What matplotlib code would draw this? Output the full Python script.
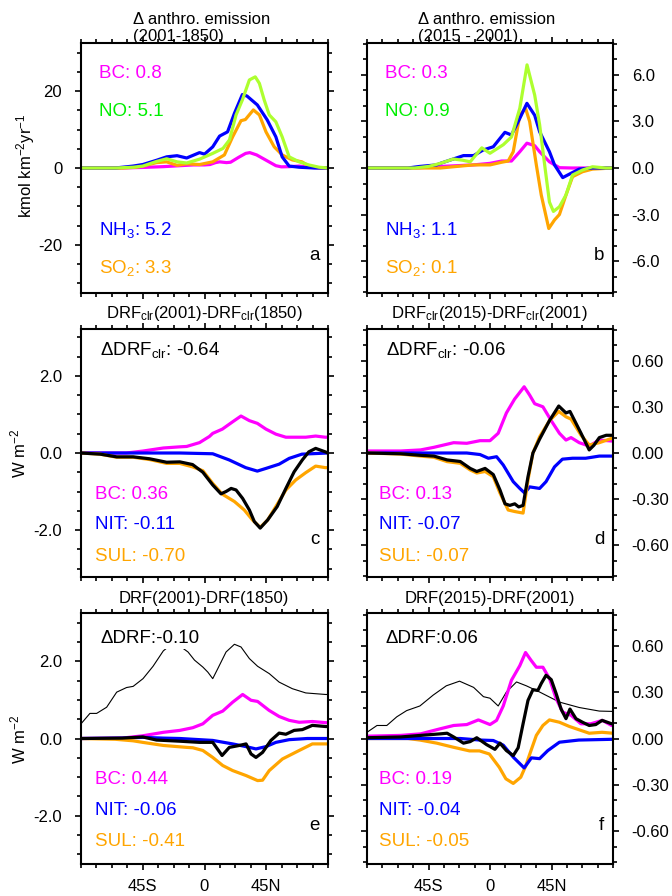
import matplotlib
matplotlib.use("Agg")
import matplotlib.pyplot as plt
from matplotlib.ticker import MultipleLocator

plt.rcParams['font.family'] = ['Liberation Sans', 'DejaVu Sans']
plt.rcParams['mathtext.fontset'] = 'custom'
plt.rcParams['mathtext.rm'] = 'Liberation Sans'
plt.rcParams['mathtext.it'] = 'Liberation Sans:italic'
plt.rcParams['mathtext.bf'] = 'Liberation Sans:bold'
plt.rcParams['axes.unicode_minus'] = False
plt.rcParams['lines.solid_joinstyle'] = 'round'
plt.rcParams['lines.solid_capstyle'] = 'round'

# ---------------- data ----------------
# Panel a: emission change 2001-1850 (kmol km-2 yr-1)
a_bc_lat = [-90, -60, -45, -30, -18, -8, 0, 4, 8, 11, 16, 19, 25, 30, 33, 38, 45, 52, 56, 62, 69, 76, 82, 90]
a_bc_val = [0, 0, 0.15, 0.35, 0.6, 0.8, 0.8, 0.9, 1.4, 1.6, 1.4, 1.5, 2.8, 3.8, 4.0, 3.4, 2.0, 0.6, 0.3, 0.35, 0.5, 0.2, 0.05, 0]
a_nh3_lat = [-90, -65, -52, -45, -35, -27.6, -20, -13, -3.6, 0, 6, 11, 16.8, 21.8, 27.6, 31, 38.5, 45.7, 52, 56.6, 61.7, 69, 80, 90]
a_nh3_val = [0, 0, 0.5, 0.9, 2.0, 2.9, 3.2, 2.6, 4.0, 3.6, 5.5, 8.3, 9.4, 14.2, 19.1, 18.7, 16.4, 12.5, 8.1, 2.9, 0.5, 0.2, 0, 0]
a_no_lat = [-90, -65, -52, -45, -35, -27.6, -20, -13, -3.6, 6, 13.5, 18.2, 23, 27.6, 32.7, 37, 40, 43.5, 47.2, 52, 56.6, 61.7, 69, 76, 83.5, 90]
a_no_val = [0, 0, 0.2, 0.5, 1.7, 2.4, 1.6, 1.3, 2.3, 3.8, 5.1, 7.3, 13.8, 17.7, 22.9, 23.7, 22, 17.7, 13.8, 12, 8.1, 2.9, 1.6, 0.8, 0.2, 0]
a_so2_lat = [-90, -60, -50, -45, -35, -27.6, -20, -13, -3.6, 6, 14.5, 20.5, 26.6, 29.8, 35.6, 40, 44.8, 50.8, 56.6, 64, 71, 76, 82, 90]
a_so2_val = [0, 0, 0.2, 0.5, 1.4, 1.6, 0.7, 1.1, 0.9, 1.6, 3.4, 8.1, 12.3, 12.6, 15.1, 13.8, 9.4, 5.5, 3.4, 2.1, 1.6, 0.5, 0.1, 0]

# Panel b: emission change 2015-2001
b_bc_lat = [-90, -55, -36, -12, 0, 8.5, 15.7, 21.8, 27, 32.7, 36.3, 43.5, 50.8, 60, 90]
b_bc_val = [0, 0, 0.1, 0.2, 0.3, 0.45, 0.45, 1.05, 1.6, 1.44, 1.05, 0.4, 0.02, 0, 0]
b_no_lat = [-90, -55, -45, -36.3, -26.8, -20, -14.5, -6, 0, 9.7, 15.7, 21.8, 27.1, 32.7, 36.3, 40, 43.5, 46.4, 50.8, 55.6, 60.4, 67.7, 75, 84.7, 90]
b_no_val = [0, 0, 0.1, 0.3, 0.58, 0.5, 0.4, 1.3, 0.95, 1.5, 2.0, 3.85, 6.65, 4.7, 2.8, 0.2, -2.2, -2.8, -2.5, -1.74, -0.45, -0.13, 0.08, 0, 0]
b_nh3_lat = [-90, -60, -51.5, -39, -36.3, -19.4, -12, -5, 2.4, 10.9, 15.7, 21.8, 27, 32.7, 36.3, 43.5, 47.2, 53.2, 59.3, 65.3, 75, 90]
b_nh3_val = [0, 0, 0.1, 0.2, 0.3, 0.8, 0.8, 1.16, 1.37, 2.3, 2.13, 3.2, 4.17, 3.4, 2.34, 1.05, 0.2, -0.62, -0.34, -0.07, 0, 0]
b_so2_lat = [-90, -36.3, -24.4, -12, 0, 8.5, 13.3, 17, 21.8, 26, 29, 33.9, 37.5, 43, 47.2, 50.8, 55.6, 60.4, 67.7, 75, 90]
b_so2_val = [0, 0, 0.1, 0.2, 0.2, 0.37, 0.45, 1.05, 3.4, 3.85, 3.0, 0.2, -1.74, -3.9, -3.35, -3.0, -1.74, -0.56, -0.24, -0.07, 0]

# Panel c: clear-sky DRF 2001-1850 (W m-2)
c_bc_lat = [-90, -57, -45, -30, -18, -13, -3.6, 3.6, 6, 13, 20.5, 26.6, 32.7, 38.5, 44.8, 52, 59.3, 66.5, 73.8, 81, 88, 90]
c_bc_val = [0, 0, 0.05, 0.13, 0.16, 0.17, 0.27, 0.43, 0.51, 0.62, 0.81, 0.96, 0.84, 0.77, 0.62, 0.49, 0.41, 0.41, 0.41, 0.44, 0.41, 0.41]
c_nit_lat = [-90, -18, 6, 18, 30, 38.5, 44.8, 54.4, 61.7, 71, 90]
c_nit_val = [0, 0, -0.02, -0.18, -0.38, -0.47, -0.4, -0.29, -0.14, -0.03, 0]
c_sul_lat = [-90, -76, -64, -52, -40, -27.6, -18, -8.7, -1.2, 6, 13, 21.8, 29, 35, 40.6, 46, 52, 59.3, 66.5, 73.8, 81, 88, 90]
c_sul_val = [0, -0.03, -0.11, -0.11, -0.17, -0.27, -0.27, -0.36, -0.46, -0.79, -1.07, -1.26, -1.48, -1.74, -1.93, -1.74, -1.39, -0.96, -0.7, -0.51, -0.34, -0.38, -0.38]
c_tot_lat = [-90, -76, -64, -52, -40, -27.6, -18, -8.7, -1.2, 6, 12, 15.7, 19.4, 23, 27.8, 32.7, 36.3, 40.6, 46, 53, 59.3, 65.3, 71.3, 76, 81, 88, 90]
c_tot_val = [0, -0.03, -0.1, -0.1, -0.15, -0.24, -0.23, -0.3, -0.5, -0.83, -1.06, -1.0, -0.92, -0.96, -1.18, -1.48, -1.78, -1.95, -1.74, -1.39, -0.92, -0.49, -0.18, 0.03, 0.12, 0.03, 0.0]

# Panel d: clear-sky DRF 2015-2001
d_bc_lat = [-90, -65.3, -50.8, -41, -26.6, -17, -7.3, 0, 6, 12, 18, 25, 29, 32.7, 38.7, 44.8, 50.8, 55.6, 59.3, 65.3, 72.6, 79.8, 89, 90]
d_bc_val = [0.013, 0.013, 0.02, 0.037, 0.067, 0.063, 0.08, 0.08, 0.128, 0.26, 0.35, 0.43, 0.376, 0.32, 0.3, 0.21, 0.128, 0.084, 0.1, 0.067, 0.045, 0.084, 0.078, 0.078]
d_nit_lat = [-90, -17, -7.3, -1.2, 4.8, 9.7, 17, 21.8, 25.4, 29, 36.3, 41, 47.2, 53, 60.4, 70, 80, 90]
d_nit_val = [0, 0, -0.01, -0.034, -0.024, -0.078, -0.186, -0.23, -0.26, -0.22, -0.23, -0.186, -0.09, -0.04, -0.034, -0.034, -0.02, -0.02]
d_sul_lat = [-90, -65.3, -50.8, -41, -31.4, -21.8, -14.5, -9.7, -3.6, 2.4, 7.3, 13.3, 18.1, 24.2, 27.8, 31.4, 36.3, 43.5, 50.3, 55.6, 59.3, 66.5, 72.6, 80, 89, 90]
d_sul_val = [0, -0.007, -0.02, -0.028, -0.056, -0.067, -0.11, -0.13, -0.12, -0.154, -0.26, -0.37, -0.38, -0.39, -0.175, 0, 0.105, 0.21, 0.27, 0.235, 0.22, 0.117, 0.052, 0.067, 0.095, 0.095]
d_tot_lat = [-90, -65.3, -50.8, -41, -31.4, -21.8, -14.5, -9.7, -3.6, 2.4, 7.3, 11, 14.5, 18.1, 21, 24.2, 27.8, 31.4, 36.3, 43.5, 50.3, 55.6, 58.5, 66.5, 72.6, 76, 80, 85, 90]
d_tot_val = [0, -0.005, -0.015, -0.02, -0.045, -0.055, -0.1, -0.12, -0.1, -0.14, -0.24, -0.33, -0.34, -0.33, -0.35, -0.34, -0.154, 0, 0.09, 0.21, 0.305, 0.26, 0.27, 0.13, 0.02, 0.05, 0.1, 0.115, 0.115]

# Panel e: all-sky DRF 2001-1850
e_ref_lat = [-90, -83.5, -78.6, -71.3, -64, -56.8, -52, -44.8, -37.5, -30, -22, -12, -7.3, -1.2, 2.4, 6, 9.7, 15.7, 21.8, 26.6, 32.7, 38.7, 47.2, 54.4, 64, 73.8, 81, 88.3, 90]
e_ref_val = [0.38, 0.65, 0.65, 0.81, 1.2, 1.32, 1.35, 1.55, 1.87, 2.27, 2.5, 2.24, 2.03, 1.85, 1.72, 1.55, 1.81, 2.24, 2.44, 2.37, 2.07, 1.87, 1.68, 1.46, 1.29, 1.18, 1.16, 1.14, 1.14]
e_bc_lat = [-90, -60, -45, -30, -18, -8.5, -1.2, 6, 13.3, 20.5, 27.8, 33.9, 38.7, 47, 54.4, 61.7, 69, 78.6, 88.3, 90]
e_bc_val = [0, 0.01, 0.07, 0.16, 0.21, 0.28, 0.38, 0.6, 0.71, 0.94, 1.14, 0.99, 0.96, 0.73, 0.57, 0.47, 0.42, 0.44, 0.41, 0.41]
e_nit_lat = [-90, -60, -45, -30, -18, 6, 20.5, 30.3, 37.5, 44.8, 52, 61.7, 75, 90]
e_nit_val = [0, 0.01, 0.03, 0.01, 0, -0.05, -0.14, -0.21, -0.27, -0.21, -0.1, -0.03, 0, 0]
e_sul_lat = [-90, -65, -52, -45, -30, -13, -8.5, -1.2, 6, 13.3, 20.5, 30.3, 38.7, 42.3, 47.2, 56.8, 69, 78.6, 88.3, 90]
e_sul_val = [0, -0.02, -0.06, -0.1, -0.18, -0.23, -0.24, -0.31, -0.49, -0.7, -0.83, -0.96, -1.09, -1.08, -0.83, -0.53, -0.31, -0.14, -0.14, -0.14]
e_tot_lat = [-90, -60, -45, -35, -18, -3.6, 6, 12.8, 18.1, 25.4, 30.3, 33.9, 37.5, 42.3, 48.4, 54.4, 59.3, 65.3, 71.3, 78.6, 88.3, 90]
e_tot_val = [0, 0.01, 0.04, -0.04, -0.07, -0.1, -0.1, -0.44, -0.23, -0.18, -0.14, -0.4, -0.49, -0.36, -0.05, 0.14, 0.11, 0.21, 0.23, 0.34, 0.31, 0.31]

# Panel f: all-sky DRF 2015-2001
f_ref_lat = [-90, -82.7, -75.5, -68.2, -61, -51.3, -41.6, -32, -22.3, -12, -4.8, 0, 6, 12, 19.4, 26.6, 36.3, 50.8, 65.3, 80, 89, 90]
f_ref_val = [0.04, 0.084, 0.084, 0.14, 0.18, 0.21, 0.28, 0.34, 0.37, 0.33, 0.27, 0.26, 0.21, 0.3, 0.365, 0.34, 0.3, 0.235, 0.2, 0.177, 0.175, 0.175]
f_bc_lat = [-90, -65.3, -50.8, -36.3, -26.6, -17, -8.5, 0, 4.8, 9.7, 15.7, 21.8, 26, 30, 33.9, 38.7, 43.5, 48.4, 53.2, 59.3, 66.5, 73.8, 82.2, 89, 90]
f_bc_val = [0.015, 0.02, 0.03, 0.063, 0.084, 0.09, 0.12, 0.09, 0.117, 0.21, 0.376, 0.47, 0.555, 0.505, 0.46, 0.46, 0.387, 0.257, 0.17, 0.15, 0.095, 0.095, 0.117, 0.084, 0.084]
f_nit_lat = [-90, -21.8, -7.3, 2.4, 9.7, 17, 25, 30.3, 36.3, 42.3, 50.8, 65, 90]
f_nit_val = [0, 0, -0.01, -0.013, -0.043, -0.12, -0.19, -0.125, -0.13, -0.078, -0.024, -0.01, -0.005]
f_sul_lat = [-90, -60, -51.3, -39, -27, -15, -7.7, -0.5, 6.8, 11.6, 17, 22.5, 26, 30, 33.9, 38.7, 43.5, 50.8, 58, 65.3, 72.6, 82, 90]
f_sul_val = [0, 0, -0.01, -0.03, -0.056, -0.08, -0.08, -0.1, -0.186, -0.26, -0.29, -0.25, -0.18, -0.078, 0.02, 0.084, 0.12, 0.105, 0.078, 0.056, 0.034, 0.04, 0.034]
f_tot_lat = [-90, -65.3, -50.8, -36.3, -31.4, -26.6, -19.4, -14.5, -9.7, -2.4, 3.6, 7.3, 12, 17, 20.6, 24.2, 27.8, 31.4, 35, 37.5, 41, 44.8, 48.4, 52, 55.6, 58.5, 62.9, 67.7, 72.6, 77.4, 82, 89, 90]
f_tot_val = [0.005, 0.01, 0.02, 0.03, 0.034, 0.01, -0.03, -0.02, 0.005, -0.04, -0.07, -0.03, -0.078, -0.11, -0.06, 0.095, 0.246, 0.315, 0.31, 0.355, 0.408, 0.38, 0.29, 0.19, 0.128, 0.19, 0.128, 0.105, 0.084, 0.09, 0.117, 0.095, 0.095]

# Text content
x_ticks = [-45, 0, 45]
x_ticklabels = ["45S", "0", "45N"]
emis_l_ticks = [-20, 0, 20]
emis_l_labels = ["-20", "0", "20"]
emis_r_ticks = [-6, -3, 0, 3, 6]
emis_r_labels = ["-6.0", "-3.0", "0.0", "3.0", "6.0"]
drf_l_ticks = [-2, 0, 2]
drf_l_labels = ["-2.0", "0.0", "2.0"]
drf_r_ticks = [-0.6, -0.3, 0, 0.3, 0.6]
drf_r_labels = ["-0.60", "-0.30", "0.00", "0.30", "0.60"]

a_texts = ["BC: 0.8", "NO: 5.1", "NH$_3$: 5.2", "SO$_2$: 3.3"]
b_texts = ["BC: 0.3", "NO: 0.9", "NH$_3$: 1.1", "SO$_2$: 0.1"]
c_texts = ["\u0394DRF$_{\\mathrm{clr}}$: -0.64", "BC: 0.36", "NIT: -0.11", "SUL: -0.70"]
d_texts = ["\u0394DRF$_{\\mathrm{clr}}$: -0.06", "BC: 0.13", "NIT: -0.07", "SUL: -0.07"]
e_texts = ["\u0394DRF:-0.10", "BC: 0.44", "NIT: -0.06", "SUL: -0.41"]
f_texts = ["\u0394DRF:0.06", "BC: 0.19", "NIT: -0.04", "SUL: -0.05"]

# ---------------- style ----------------
MAG = "#FF00FF"
BLU = "#0000FF"
ORA = "#FFA500"
GRN_LINE = "#ADFF2F"
GRN_TXT = "#00EE00"
LW = 2.3

W, H = 672, 896
fig = plt.figure(figsize=(W / 100, H / 100), dpi=100)


def fx(px):
    return px / W


def fy(py):
    return 1 - py / H


cols = [(81, 328), (367, 613)]
rows = [(43, 293), (329, 577), (613, 864)]


def make_ax(r, c):
    x0, x1 = cols[c]
    y0, y1 = rows[r]
    ax = fig.add_axes([fx(x0), fy(y1), (x1 - x0) / W, (y1 - y0) / H])
    for s in ax.spines.values():
        s.set_linewidth(1.5)
    ax.set_xlim(-90, 90)
    ax.set_xticks(x_ticks)
    ax.xaxis.set_minor_locator(MultipleLocator(11.25))
    ax.tick_params(which='both', direction='out', top=True, right=True,
                   bottom=True, left=True, width=1.2, labelsize=12, colors='black')
    ax.tick_params(which='major', length=4.5)
    ax.tick_params(which='minor', length=3)
    ax.tick_params(axis='y', pad=9)
    ax.tick_params(axis='x', pad=6)
    if r == 2:
        ax.set_xticklabels(x_ticklabels)
    else:
        ax.tick_params(labelbottom=False)
    if c == 0:
        ax.tick_params(axis='y', labelleft=True, labelright=False)
    else:
        ax.tick_params(axis='y', labelleft=False, labelright=True)
    return ax


axes = {}
for r in range(3):
    for c in range(2):
        axes[(r, c)] = make_ax(r, c)

# ---- row 1: emissions ----
ax = axes[(0, 0)]
ax.plot(a_bc_lat, a_bc_val, color=MAG, lw=LW)
ax.plot(a_so2_lat, a_so2_val, color=ORA, lw=LW)
ax.plot(a_nh3_lat, a_nh3_val, color=BLU, lw=LW)
ax.plot(a_no_lat, a_no_val, color=GRN_LINE, lw=LW)
ax.set_ylim(-32.5, 32.5)
ax.set_yticks(emis_l_ticks)
ax.set_yticklabels(emis_l_labels)
ax.yaxis.set_minor_locator(MultipleLocator(5))

ax = axes[(0, 1)]
ax.plot(b_bc_lat, b_bc_val, color=MAG, lw=LW)
ax.plot(b_so2_lat, b_so2_val, color=ORA, lw=LW)
ax.plot(b_nh3_lat, b_nh3_val, color=BLU, lw=LW)
ax.plot(b_no_lat, b_no_val, color=GRN_LINE, lw=LW)
ax.set_ylim(-8.06, 8.06)
ax.set_yticks(emis_r_ticks)
ax.set_yticklabels(emis_r_labels)
ax.yaxis.set_minor_locator(MultipleLocator(1.0))

for ax, txts in ((axes[(0, 0)], a_texts), (axes[(0, 1)], b_texts)):
    cols_t = [MAG, GRN_TXT, BLU, ORA]
    ys = [0.876, 0.728, 0.252, 0.10]
    for t, col, yy in zip(txts, cols_t, ys):
        ax.text(0.073, yy, t, transform=ax.transAxes, color=col,
                fontsize=13.5, ha='left', va='center')

# ---- row 2: clear-sky DRF ----
ax = axes[(1, 0)]
ax.plot(c_bc_lat, c_bc_val, color=MAG, lw=LW)
ax.plot(c_nit_lat, c_nit_val, color=BLU, lw=LW)
ax.plot(c_sul_lat, c_sul_val, color=ORA, lw=LW)
ax.plot(c_tot_lat, c_tot_val, color='black', lw=LW)
ax.set_ylim(-3.22, 3.22)
ax.set_yticks(drf_l_ticks)
ax.set_yticklabels(drf_l_labels)
ax.yaxis.set_minor_locator(MultipleLocator(0.5))

ax = axes[(1, 1)]
ax.plot(d_bc_lat, d_bc_val, color=MAG, lw=LW)
ax.plot(d_nit_lat, d_nit_val, color=BLU, lw=LW)
ax.plot(d_sul_lat, d_sul_val, color=ORA, lw=LW)
ax.plot(d_tot_lat, d_tot_val, color='black', lw=LW)
ax.set_ylim(-0.805, 0.805)
ax.set_yticks(drf_r_ticks)
ax.set_yticklabels(drf_r_labels)
ax.yaxis.set_minor_locator(MultipleLocator(0.1))

# ---- row 3: all-sky DRF ----
ax = axes[(2, 0)]
ax.plot(e_ref_lat, e_ref_val, color='black', lw=0.8)
ax.plot(e_bc_lat, e_bc_val, color=MAG, lw=LW)
ax.plot(e_nit_lat, e_nit_val, color=BLU, lw=LW)
ax.plot(e_sul_lat, e_sul_val, color=ORA, lw=LW)
ax.plot(e_tot_lat, e_tot_val, color='black', lw=LW)
ax.set_ylim(-3.25, 3.25)
ax.set_yticks(drf_l_ticks)
ax.set_yticklabels(drf_l_labels)
ax.yaxis.set_minor_locator(MultipleLocator(0.5))

ax = axes[(2, 1)]
ax.plot(f_ref_lat, f_ref_val, color='black', lw=0.8)
ax.plot(f_bc_lat, f_bc_val, color=MAG, lw=LW)
ax.plot(f_sul_lat, f_sul_val, color=ORA, lw=LW)
ax.plot(f_nit_lat, f_nit_val, color=BLU, lw=LW)
ax.plot(f_tot_lat, f_tot_val, color='black', lw=LW)
ax.set_ylim(-0.81, 0.81)
ax.set_yticks(drf_r_ticks)
ax.set_yticklabels(drf_r_labels)
ax.yaxis.set_minor_locator(MultipleLocator(0.1))

# annotations rows 2-3
for key, txts, xs in (((1, 0), c_texts, (0.077, 0.057)), ((1, 1), d_texts, (0.077, 0.048)),
                      ((2, 0), e_texts, (0.077, 0.057)), ((2, 1), f_texts, (0.077, 0.048))):
    ax = axes[key]
    if key[0] == 1:
        ys = [0.915, 0.331, 0.21, 0.081]
    else:
        ys = [0.90, 0.335, 0.215, 0.088]
    ax.text(xs[0], ys[0], txts[0], transform=ax.transAxes, color='black', fontsize=13.5,
            ha='left', va='center', zorder=10,
            bbox=dict(boxstyle='square,pad=0.12', facecolor='white', edgecolor='none'))
    for t, col, yy in zip(txts[1:], [MAG, BLU, ORA], ys[1:]):
        ax.text(xs[1], yy, t, transform=ax.transAxes, color=col, fontsize=13.5,
                ha='left', va='center')

# panel letters
letters = {(0, 0): 'a', (0, 1): 'b', (1, 0): 'c', (1, 1): 'd', (2, 0): 'e', (2, 1): 'f'}
for key, L in letters.items():
    ax = axes[key]
    ax.text(0.965, 0.152, L, transform=ax.transAxes, fontsize=13.5, ha='right', va='center')

# titles
fig.text(fx(133), fy(19), "\u0394 anthro. emission", fontsize=12, ha='left', va='center')
fig.text(fx(133), fy(37), "(2001-1850)", fontsize=12, ha='left', va='center')
fig.text(fx(418), fy(19), "\u0394 anthro. emission", fontsize=12, ha='left', va='center')
fig.text(fx(418), fy(37), "(2015 - 2001)", fontsize=12, ha='left', va='center')
fig.text(fx(204), fy(313), "DRF$_{\\mathrm{clr}}$(2001)-DRF$_{\\mathrm{clr}}$(1850)", fontsize=12,
         ha='center', va='center')
fig.text(fx(489.5), fy(313), "DRF$_{\\mathrm{clr}}$(2015)-DRF$_{\\mathrm{clr}}$(2001)", fontsize=12,
         ha='center', va='center')
fig.text(fx(204), fy(598), "DRF(2001)-DRF(1850)", fontsize=12, ha='center', va='center')
fig.text(fx(489.5), fy(598), "DRF(2015)-DRF(2001)", fontsize=12, ha='center', va='center')

# y-axis labels
fig.text(fx(26), fy(166), "kmol km$^{-2}$yr$^{-1}$", fontsize=12, rotation=90, ha='center', va='center')
fig.text(fx(18), fy(453), "W m$^{-2}$", fontsize=12, rotation=90, ha='center', va='center')
fig.text(fx(18), fy(739), "W m$^{-2}$", fontsize=12, rotation=90, ha='center', va='center')

fig.savefig("out.png", dpi=100)
